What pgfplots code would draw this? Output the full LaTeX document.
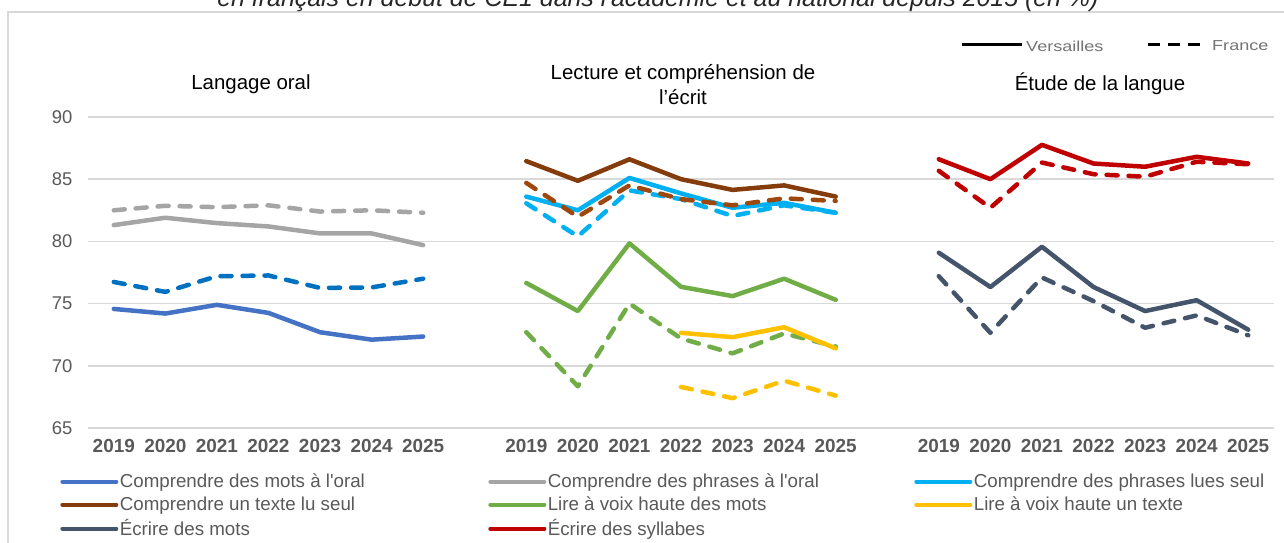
\documentclass[border=0pt]{standalone}
\usepackage{fontspec}
\setmainfont{Liberation Sans}
\usepackage{pgfplots}
\pgfplotsset{compat=1.18}
\definecolor{cblue}{HTML}{4472C4}
\definecolor{cblued}{HTML}{0070C0}
\definecolor{cgray}{HTML}{A5A5A5}
\definecolor{ccyan}{HTML}{00B0F0}
\definecolor{cbrown}{HTML}{843C0C}
\definecolor{cbrownd}{HTML}{9E480E}
\definecolor{cgreen}{HTML}{70AD47}
\definecolor{cyellow}{HTML}{FFC000}
\definecolor{cslate}{HTML}{44546A}
\definecolor{cred}{HTML}{C00000}
\definecolor{txtgray}{HTML}{595959}
\definecolor{gridgray}{HTML}{D9D9D9}
\newcommand{\q}{\textquotesingle}
\begin{document}
\begin{tikzpicture}[x=1bp,y=1bp]
\useasboundingbox (0,0) rectangle (1284,543);
% frame
\draw[gridgray, line width=1.5bp] (8,-10) -- (8,531) -- (1300,531);
% clipped title
\node[anchor=base, font=\itshape\fontsize{25}{28}\selectfont, text=black!85] at (658,536) {en français en début de CE1 dans l\q académie et au national depuis 2015 (en \%)};
% panel titles
\node[font=\fontsize{20.5}{25}\selectfont] at (251,459) {Langage oral};
\node[font=\fontsize{20.5}{25}\selectfont, align=center] at (683,458.5) {Lecture et compréhension de\\l’écrit};
\node[font=\fontsize{20.5}{25}\selectfont] at (1100,459) {Étude de la langue};
% top key
\draw[black, line width=3bp] (962,498) -- (1022,498);
\node[anchor=west, text=black!55, inner sep=0pt, font=\fontsize{14.5}{16}\selectfont] at (1026,497) {\scalebox{1.25}[1]{Versailles}};
\draw[black, line width=3bp, dash pattern=on 12bp off 8bp] (1148,498) -- (1208,498);
\node[anchor=west, text=black!55, inner sep=0pt, font=\fontsize{14.5}{16}\selectfont] at (1212,497) {\scalebox{1.25}[1]{France}};
\begin{axis}[
  at={(88bp,115bp)}, anchor=south west,
  width=1186bp, height=311bp, scale only axis,
  xmin=-0.5, xmax=22.5, ymin=65, ymax=90,
  xtick={0,1,2,3,4,5,6,8,9,10,11,12,13,14,16,17,18,19,20,21,22},
  xticklabels={2019,2020,2021,2022,2023,2024,2025,2019,2020,2021,2022,2023,2024,2025,2019,2020,2021,2022,2023,2024,2025},
  ytick={65,70,75,80,85,90},
  ymajorgrids, grid style={gridgray, line width=1.5bp},
  axis line style={draw=none},
  major tick length=0pt,
  /pgf/number format/assume math mode=true,
  yticklabel style={font=\fontsize{18.5}{20}\selectfont, text=txtgray, xshift=-12bp},
  xticklabel style={font=\bfseries\fontsize{19}{21}\selectfont, text=txtgray, yshift=-8bp},
  clip=false,
  every axis plot/.append style={line width=4.5bp, line cap=round, line join=round},
  legend columns=3,
  legend image code/.code={\draw[#1, line width=4bp, line cap=round] (0bp,0bp) -- (54bp,0bp);},
  legend style={at={(axis description cs:-0.0235,-0.143)}, anchor=north west, draw=none, fill=none,
    inner sep=0pt, row sep=4.5bp, font=\fontsize{18.8}{21}\selectfont, text=txtgray,
    nodes={inner sep=1.5bp}},
  legend cell align=left,
]
\pgfplotsset{dashd/.style={dash pattern=on 11bp off 11bp}}
% Langage oral
\addplot[cblue] coordinates {(0,74.57)(1,74.2)(2,74.9)(3,74.25)(4,72.7)(5,72.1)(6,72.35)};
\addlegendentry{\makebox[367bp][l]{Comprendre des mots à l\q oral}}
\addplot[cblued, dashd, forget plot] coordinates {(0,76.74)(1,75.94)(2,77.2)(3,77.26)(4,76.26)(5,76.3)(6,77.0)};
\addplot[cgray] coordinates {(0,81.31)(1,81.9)(2,81.47)(3,81.2)(4,80.64)(5,80.64)(6,79.7)};
\addlegendentry{\makebox[365bp][l]{Comprendre des phrases à l\q oral}}
\addplot[cgray, dashd, forget plot] coordinates {(0,82.5)(1,82.86)(2,82.75)(3,82.9)(4,82.4)(5,82.5)(6,82.3)};
% Lecture
\addplot[ccyan] coordinates {(8,83.6)(9,82.5)(10,85.1)(11,83.86)(12,82.7)(13,83.1)(14,82.3)};
\addlegendentry{Comprendre des phrases lues seul}
\addplot[ccyan, dashd, forget plot] coordinates {(8,83.06)(9,80.4)(10,84.1)(11,83.4)(12,82.04)(13,82.9)(14,82.3)};
\addplot[cbrown] coordinates {(8,86.45)(9,84.87)(10,86.6)(11,85.0)(12,84.14)(13,84.5)(14,83.6)};
\addlegendentry{\makebox[367bp][l]{Comprendre un texte lu seul}}
\addplot[cbrownd, dashd, forget plot] coordinates {(8,84.7)(9,81.98)(10,84.5)(11,83.4)(12,82.9)(13,83.46)(14,83.25)};
\addplot[cgreen] coordinates {(8,76.66)(9,74.4)(10,79.84)(11,76.35)(12,75.6)(13,77.0)(14,75.3)};
\addlegendentry{\makebox[365bp][l]{Lire à voix haute des mots}}
\addplot[cgreen, dashd, forget plot] coordinates {(8,72.7)(9,68.35)(10,75.0)(11,72.2)(12,71.0)(13,72.6)(14,71.55)};
\addplot[cyellow] coordinates {(11,72.65)(12,72.3)(13,73.1)(14,71.4)};
\addlegendentry{Lire à voix haute un texte}
\addplot[cyellow, dashd, forget plot] coordinates {(11,68.3)(12,67.4)(13,68.8)(14,67.6)};
% Etude de la langue
\addplot[cslate] coordinates {(16,79.09)(17,76.33)(18,79.57)(19,76.33)(20,74.4)(21,75.27)(22,72.9)};
\addlegendentry{\makebox[367bp][l]{Écrire des mots}}
\addplot[cslate, dashd, forget plot] coordinates {(16,77.2)(17,72.65)(18,77.1)(19,75.2)(20,73.06)(21,74.05)(22,72.45)};
\addplot[cred] coordinates {(16,86.6)(17,85.0)(18,87.76)(19,86.26)(20,86.0)(21,86.8)(22,86.26)};
\addlegendentry{\makebox[365bp][l]{Écrire des syllabes}}
\addplot[cred, dashd, forget plot] coordinates {(16,85.67)(17,82.7)(18,86.34)(19,85.4)(20,85.2)(21,86.4)(22,86.2)};
\end{axis}
\end{tikzpicture}
\end{document}
